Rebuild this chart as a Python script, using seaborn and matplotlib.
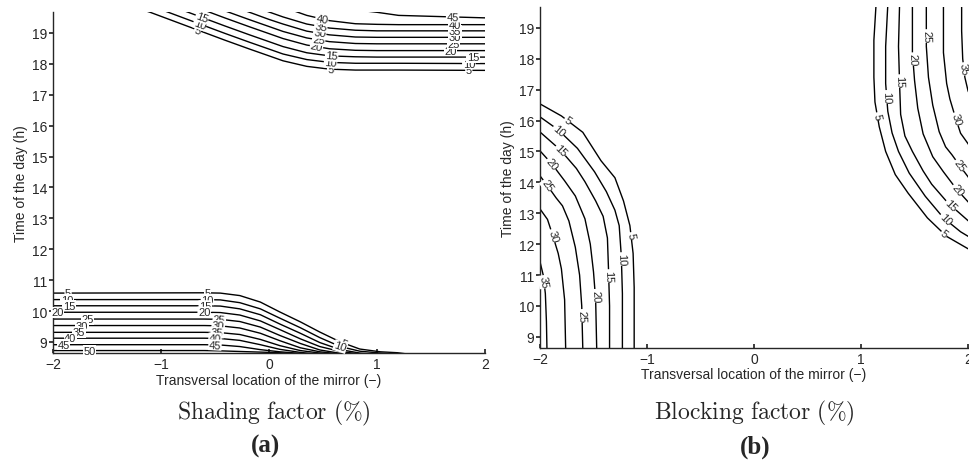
import numpy as np
import pandas as pd
import matplotlib
matplotlib.use('Agg')
import matplotlib.pyplot as plt
import seaborn as sns

# ---- panel (a): shading factor ----
shade_levels = [5, 10, 15, 20, 25, 30, 35, 40, 45, 50]
# morning band (bottom), one t-row per level on a shared x grid
shade_low_x = [-2.0, -0.6, -0.45, -0.27, -0.08, 0.10, 0.29, 0.47, 0.66, 0.84, 1.03, 1.19, 1.30]
shade_low_t = [
    [10.58, 10.59, 10.58, 10.50, 10.29, 9.97, 9.65, 9.32, 9.00, 8.77, 8.68, 8.65, 8.60],
    [10.37, 10.37, 10.36, 10.27, 10.07, 9.77, 9.46, 9.14, 8.85, 8.70, 8.64, 8.60, 8.55],
    [10.17, 10.17, 10.16, 10.07, 9.88, 9.58, 9.28, 8.98, 8.75, 8.64, 8.58, 8.55],
    [9.96, 9.96, 9.95, 9.87, 9.68, 9.40, 9.10, 8.85, 8.69, 8.61, 8.55],
    [9.74, 9.74, 9.73, 9.66, 9.48, 9.21, 8.95, 8.74, 8.63, 8.57, 8.55],
    [9.53, 9.53, 9.52, 9.45, 9.28, 9.04, 8.81, 8.68, 8.61, 8.55],
    [9.31, 9.31, 9.30, 9.24, 9.08, 8.88, 8.72, 8.64, 8.58, 8.55],
    [9.12, 9.12, 9.11, 9.05, 8.91, 8.76, 8.66, 8.60, 8.55],
    [8.91, 8.91, 8.90, 8.85, 8.75, 8.68, 8.63, 8.58, 8.55],
    [8.72, 8.72, 8.71, 8.69, 8.67, 8.65, 8.60, 8.55],
]
# evening band (top)
shade_up_levels = [5, 10, 15, 20, 25, 30, 35, 40, 45]
shade_up_x = [-1.3, -1.10, -0.87, -0.64, -0.41, -0.18, 0.0, 0.13, 0.35, 0.56, 0.8, 1.0, 1.2, 2.0]
shade_up_t = [
    [19.90, 19.67, 19.37, 19.07, 18.77, 18.48, 18.26, 18.10, 17.92, 17.83, 17.80, 17.80, 17.80, 17.79],
    [20.12, 19.89, 19.59, 19.29, 18.99, 18.70, 18.48, 18.32, 18.14, 18.05, 18.02, 18.02, 18.02, 18.01],
    [20.37, 20.13, 19.83, 19.53, 19.23, 18.94, 18.72, 18.56, 18.36, 18.26, 18.23, 18.22, 18.22, 18.22],
    [20.60, 20.39, 20.09, 19.79, 19.49, 19.20, 18.98, 18.82, 18.61, 18.49, 18.44, 18.43, 18.43, 18.43],
    [20.80, 20.60, 20.32, 20.02, 19.72, 19.43, 19.21, 19.05, 18.84, 18.72, 18.66, 18.65, 18.65, 18.65],
    [21.00, 20.80, 20.60, 20.26, 19.96, 19.67, 19.44, 19.29, 19.06, 18.94, 18.87, 18.86, 18.86, 18.86],
    [21.20, 21.00, 20.80, 20.50, 20.20, 19.91, 19.68, 19.52, 19.29, 19.16, 19.09, 19.07, 19.07, 19.07],
    [21.40, 21.20, 21.00, 20.80, 20.50, 20.20, 20.00, 19.84, 19.57, 19.40, 19.30, 19.28, 19.27, 19.27],
    [21.60, 21.40, 21.20, 21.00, 20.80, 20.60, 20.40, 20.20, 20.00, 19.85, 19.75, 19.67, 19.57, 19.49],
]

# ---- panel (b): blocking factor ----
block_levels = [5, 10, 15, 20, 25, 30, 35]
block_left_x = [
    [-2.00, -1.80, -1.60, -1.43, -1.30, -1.22, -1.16, -1.13, -1.12, -1.12, -1.12],
    [-2.00, -1.83, -1.65, -1.49, -1.38, -1.30, -1.26, -1.24, -1.23, -1.23],
    [-2.00, -1.81, -1.66, -1.58, -1.48, -1.41, -1.37, -1.36, -1.35, -1.35],
    [-2.00, -1.89, -1.77, -1.67, -1.58, -1.53, -1.50, -1.48, -1.47],
    [-2.00, -1.93, -1.85, -1.79, -1.73, -1.67, -1.63, -1.61, -1.60],
    [-2.00, -1.93, -1.88, -1.83, -1.80, -1.77, -1.76],
    [-2.00, -1.97, -1.95, -1.94, -1.935],
]
block_left_t = [
    [16.54, 16.15, 15.62, 14.70, 14.15, 13.40, 12.60, 11.70, 10.60, 9.60, 8.60],
    [16.12, 15.70, 15.10, 14.34, 13.70, 13.10, 12.60, 11.60, 10.40, 8.60],
    [15.63, 15.05, 14.45, 14.02, 13.40, 12.90, 12.20, 11.20, 10.00, 8.60],
    [15.02, 14.60, 14.05, 13.56, 12.82, 12.00, 11.10, 10.20, 8.60],
    [14.21, 13.89, 13.50, 13.24, 12.75, 11.90, 11.00, 10.00, 8.60],
    [13.14, 12.80, 12.27, 11.70, 11.20, 10.20, 8.60],
    [11.43, 11.00, 10.40, 9.50, 8.60],
]
block_right_x = [
    [1.14, 1.12, 1.12, 1.13, 1.17, 1.23, 1.32, 1.44, 1.62, 1.80, 2.00, 2.05],
    [1.25, 1.23, 1.23, 1.25, 1.29, 1.35, 1.45, 1.60, 1.77, 1.93, 2.05],
    [1.36, 1.35, 1.36, 1.37, 1.41, 1.48, 1.58, 1.66, 1.81, 2.00, 2.05],
    [1.48, 1.48, 1.50, 1.53, 1.58, 1.67, 1.77, 1.89, 2.00, 2.05],
    [1.61, 1.61, 1.63, 1.67, 1.73, 1.79, 1.85, 1.93, 2.00, 2.05],
    [1.77, 1.77, 1.80, 1.83, 1.88, 1.93, 2.00, 2.05],
    [1.94, 1.94, 1.95, 1.97, 2.00, 2.05],
]
block_right_t = [
    [19.75, 18.60, 17.40, 16.60, 15.80, 15.00, 14.25, 13.65, 12.85, 12.25, 11.85, 11.75],
    [19.75, 18.40, 17.20, 16.30, 15.60, 15.00, 14.30, 13.55, 12.85, 12.40, 12.15],
    [19.75, 18.40, 17.20, 16.20, 15.50, 15.00, 14.37, 13.94, 13.34, 12.76, 12.62],
    [19.75, 18.20, 17.30, 16.40, 15.57, 14.83, 14.34, 13.79, 13.37, 13.20],
    [19.75, 18.40, 17.40, 16.50, 15.64, 15.15, 14.89, 14.50, 14.18, 13.90],
    [19.75, 18.20, 17.20, 16.70, 16.12, 15.59, 15.25, 14.95],
    [19.75, 18.90, 18.00, 17.40, 16.96, 16.60],
]

# label positions: (level, x) for panel (a), (level, t) for panel (b)
shade_low_lab = [(5, -1.86), (10, -1.87), (15, -1.85), (20, -1.96), (25, -1.68), (30, -1.73),
                 (35, -1.76), (40, -1.84), (45, -1.9), (50, -1.66),
                 (5, -0.57), (10, -0.57), (15, -0.59), (20, -0.6), (25, -0.46), (30, -0.47),
                 (35, -0.48), (40, -0.5), (45, -0.5), (5, 0.69), (10, 0.66)]
shade_up_lab = [(5, -0.66), (10, -0.64), (15, -0.62),
                (5, 0.57), (10, 0.57), (15, 0.58), (20, 0.44), (25, 0.46), (30, 0.47),
                (35, 0.48), (40, 0.49),
                (5, 1.85), (10, 1.85), (15, 1.89), (20, 1.68), (25, 1.71), (30, 1.72),
                (35, 1.72), (40, 1.72), (45, 1.70)]
block_left_lab = [(5, 16.0), (10, 15.68), (15, 15.03), (20, 14.6), (25, 13.9), (30, 12.27),
                  (35, 10.78), (5, 12.27), (10, 11.52), (15, 10.97), (20, 10.33), (25, 9.68)]
block_right_lab = [(5, 16.15), (10, 16.77), (15, 17.28), (20, 17.99), (25, 18.74), (30, 16.05),
                   (35, 17.67), (5, 12.33), (10, 12.8), (15, 13.25), (20, 13.75), (25, 14.55)]


def grid_frame(xs, rows, levels, tag):
    recs = []
    for lev, ts in zip(levels, rows):
        for x, t in zip(xs, ts):
            recs.append((tag + str(lev), lev, x, t))
    return recs


def free_frame(xrows, trows, levels, tag):
    recs = []
    for lev, xs, ts in zip(levels, xrows, trows):
        for x, t in zip(xs, ts):
            recs.append((tag + str(lev), lev, x, t))
    return recs


def put_label(ax, xs, ts, lev, x=None, t=None):
    xs = np.asarray(xs, float)
    ts = np.asarray(ts, float)
    if x is None:
        x = np.interp(t, ts[::-1], xs[::-1])
    else:
        t = np.interp(x, xs[:len(ts)], ts)
    pts = ax.transData.transform(np.column_stack([xs[:len(ts)], ts]))
    p = ax.transData.transform((x, t))
    i = int(np.argmin(np.hypot(*(pts - p).T)))
    j0, j1 = max(i - 1, 0), min(i + 1, len(ts) - 1)
    dx, dy = pts[j1] - pts[j0]
    ang = np.degrees(np.arctan2(dy, dx))
    if ang > 90:
        ang -= 180
    if ang < -90:
        ang += 180
    ax.text(x, t, str(lev), rotation=ang, rotation_mode='anchor', ha='center', va='center',
            fontsize=8, zorder=3, clip_on=False,
            bbox=dict(boxstyle='square,pad=0.05', fc='white', ec='none'))


def style_axes(ax):
    ax.set_xlim(-2, 2)
    ax.set_ylim(8.64, 19.68)
    ax.set_xticks([-2, -1, 0, 1, 2])
    ax.set_yticks(range(9, 20))
    ax.tick_params(axis='x', direction='in', length=3, labelsize=10, pad=3)
    ax.tick_params(axis='y', direction='out', length=3, labelsize=10, pad=1)
    ax.set_xlabel('Transversal location of the mirror (\u2212)', fontsize=10, labelpad=1)
    ax.set_ylabel('Time of the day (h)', fontsize=10, labelpad=3)
    sns.despine(ax=ax)
    for s in ax.spines.values():
        s.set_linewidth(1.0)


sns.set_theme(style='ticks')
plt.rcParams['font.family'] = ['Liberation Sans', 'DejaVu Sans']
plt.rcParams['mathtext.fontset'] = 'cm'

fig = plt.figure(figsize=(9.7, 4.64), dpi=100)
ax_a = fig.add_axes([0.0546, 0.237, 0.4454, 0.735])
ax_b = fig.add_axes([0.5567, 0.248, 0.4413, 0.735])

# panel (a)
df_a = pd.DataFrame(grid_frame(shade_low_x, shade_low_t, shade_levels, 'low')
                    + grid_frame(shade_up_x, shade_up_t, shade_up_levels, 'up'),
                    columns=['line', 'level', 'x', 't'])
sns.lineplot(data=df_a, x='x', y='t', units='line', estimator=None, sort=False,
             color='black', linewidth=1.0, ax=ax_a, legend=False)
style_axes(ax_a)
for lev, x in shade_low_lab:
    k = shade_levels.index(lev)
    put_label(ax_a, shade_low_x, shade_low_t[k], lev, x=x)
for lev, x in shade_up_lab:
    k = shade_up_levels.index(lev)
    put_label(ax_a, shade_up_x, shade_up_t[k], lev, x=x)

# panel (b)
df_b = pd.DataFrame(free_frame(block_left_x, block_left_t, block_levels, 'L')
                    + free_frame(block_right_x, block_right_t, block_levels, 'R'),
                    columns=['line', 'level', 'x', 't'])
sns.lineplot(data=df_b, x='x', y='t', units='line', estimator=None, sort=False,
             color='black', linewidth=1.0, ax=ax_b, legend=False)
style_axes(ax_b)
for lev, t in block_left_lab:
    k = block_levels.index(lev)
    put_label(ax_b, block_left_x[k], block_left_t[k], lev, t=t)
for lev, t in block_right_lab:
    k = block_levels.index(lev)
    put_label(ax_b, block_right_x[k], block_right_t[k], lev, t=t)

fig.text(0.282, 0.110, r'$\mathrm{Shading\ factor\ (\%)}$', ha='center', va='center', fontsize=17)
fig.text(0.778, 0.110, r'$\mathrm{Blocking\ factor\ (\%)}$', ha='center', va='center', fontsize=17)
fig.text(0.274, 0.037, '(a)', ha='center', va='center', fontsize=18, fontweight='bold',
         family='Liberation Serif')
fig.text(0.779, 0.037, '(b)', ha='center', va='center', fontsize=18, fontweight='bold',
         family='Liberation Serif')

fig.savefig('out.png', dpi=100)
